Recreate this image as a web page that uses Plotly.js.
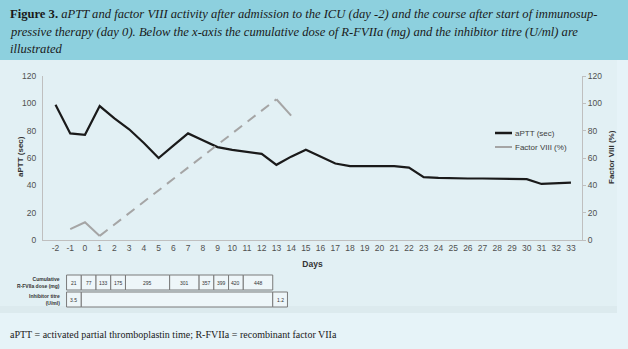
<!DOCTYPE html>
<html>
<head>
<meta charset="utf-8">
<script src="https://cdn.plot.ly/plotly-3.0.1.min.js"></script>
<style>html,body{margin:0;padding:0;background:#e6f3f8;}#chart{width:628px;height:349px;}</style>
</head>
<body>
<div id="chart"></div>
<script>
// ---- data ----
const days = [-2,-1,0,1,2,3,4,5,6,7,8,9,10,11,12,13,14,15,16,17,18,19,20,21,22,23,24,25,26,27,28,29,30,31,32,33];
const aptt = [99,78,77,98,89,81,71,60,69,78,73,68,66,64.5,63,55,61,66,61,56,54,54,53.5,54,53,46,45.5,45,45,45,45,44.5,44.5,41,41.5,42];
const factorDays = [-1,0,1,13,14];
const factorVIII = [8,13,3,103,91];
const doseValues = ['21','77','133','175','295','301','357','399','420','448'];
const doseFromDay = [-1,0,1,2,3,6,8,9,10,11];
const doseToDay   = [0,1,2,3,6,8,9,10,11,13];
const titreValues = ['3.5','','1.2'];
const titreFromDay = [-1,0,13];
const titreToDay   = [0,13,14];
const yTicks = [0,20,40,60,80,100,120];

// ---- layout helpers (pixel -> paper) ----
const L=43, R=582, T=76, B=240;
const px = v => (v-L)/(R-L);
const py = v => (B-v)/(B-T);

// factor VIII: solid where measured on consecutive days, dashed across the gap
const fSolidX=[], fSolidY=[], fDashX=[], fDashY=[];
for (let i=0;i<factorDays.length;i++){
  if (i>0 && factorDays[i]-factorDays[i-1]>1){
    fSolidX.push(null); fSolidY.push(null);
    fDashX.push(factorDays[i-1], factorDays[i]);
    fDashY.push(factorVIII[i-1], factorVIII[i]);
  }
  fSolidX.push(factorDays[i]); fSolidY.push(factorVIII[i]);
}

const grey='#a5a5a5';
const traces = [
  {x: days, y: aptt, type:'scatter', mode:'lines', name:'aPTT (sec)',
   line:{color:'#1a1a1a', width:2.2}, showlegend:false, hoverinfo:'skip'},
  {x: fSolidX, y: fSolidY, type:'scatter', mode:'lines', name:'Factor VIII (%)', yaxis:'y2',
   connectgaps:false, line:{color:grey, width:2}, showlegend:false, hoverinfo:'skip'},
  {x: fDashX, y: fDashY, type:'scatter', mode:'lines', name:'Factor VIII (%) interpolated', yaxis:'y2',
   line:{color:grey, width:2, dash:'10px,7px'}, showlegend:false, hoverinfo:'skip'}
];

const shapes = [
  {type:'rect', xref:'paper', yref:'paper', x0:px(0), x1:px(628), y0:py(0), y1:py(60),
   fillcolor:'#8dd0de', line:{width:0}, layer:'below'},
  {type:'rect', xref:'paper', yref:'paper', x0:px(0), x1:px(617), y0:py(60), y1:py(313),
   fillcolor:'#e2f0f4', line:{width:0}, layer:'below'},
  {type:'rect', xref:'paper', yref:'paper', x0:px(0), x1:px(617), y0:py(306), y1:py(313),
   fillcolor:'#dceaee', line:{width:0}, layer:'below'},
  {type:'line', xref:'paper', yref:'paper', x0:px(495), x1:px(512), y0:py(133), y1:py(133),
   line:{color:'#1a1a1a', width:2.5}},
  {type:'line', xref:'paper', yref:'paper', x0:px(495), x1:px(512), y0:py(147), y1:py(147),
   line:{color:grey, width:2}}
];

const annotations = [];
const serif = 'Liberation Serif, Times New Roman, serif';
const sans = 'Liberation Sans, Arial, sans-serif';
const titleLines = [
  '<b>Figure 3.</b> <i>aPTT and factor VIII activity after admission to the ICU (day -2) and the course after start of immunosup-</i>',
  '<i>pressive therapy (day 0). Below the x-axis the cumulative dose of R-FVIIa (mg) and the inhibitor titre (U/ml) are</i>',
  '<i>illustrated</i>'
];
const titleY = [14, 32, 49];
titleLines.forEach((t,i)=>annotations.push({text:t, xref:'paper', yref:'paper', x:px(8), y:py(titleY[i]),
  xanchor:'left', yanchor:'middle', showarrow:false, font:{family:serif, size:12.6, color:'#1a1a1a'}}));

annotations.push({text:'aPTT = activated partial thromboplastin time; R-FVIIa = recombinant factor VIIa',
  xref:'paper', yref:'paper', x:px(8), y:py(334), xanchor:'left', yanchor:'middle', showarrow:false,
  font:{family:serif, size:10, color:'#1a1a1a'}});

// axis titles
annotations.push({text:'<b>aPTT (sec)</b>', xref:'paper', yref:'paper', x:px(20), y:py(157), textangle:-90,
  xanchor:'center', yanchor:'middle', showarrow:false, font:{family:sans, size:8, color:'#333'}});
annotations.push({text:'<b>Factor VIII (%)</b>', xref:'paper', yref:'paper', x:px(611), y:py(157), textangle:-90,
  xanchor:'center', yanchor:'middle', showarrow:false, font:{family:sans, size:8, color:'#333'}});

// legend texts
annotations.push({text:'aPTT (sec)', xref:'paper', yref:'paper', x:px(513), y:py(133), xanchor:'left', yanchor:'middle',
  showarrow:false, font:{family:sans, size:8, color:'#404040'}});
annotations.push({text:'Factor VIII (%)', xref:'paper', yref:'paper', x:px(513), y:py(147), xanchor:'left', yanchor:'middle',
  showarrow:false, font:{family:sans, size:8, color:'#404040'}});

// table below x axis
const off = 0.25;
function cellRow(vals, from, to, top, bot){
  for (let i=0;i<vals.length;i++){
    shapes.push({type:'rect', xref:'x', yref:'paper', x0:from[i]-off, x1:to[i]-off, y0:py(top), y1:py(bot),
      fillcolor:'#eef6f9', line:{color:'#7a7a7a', width:1}});
    if (vals[i] !== '') annotations.push({text:vals[i], xref:'x', yref:'paper', x:(from[i]+to[i])/2-off,
      y:py((top+bot)/2), xanchor:'center', yanchor:'middle', showarrow:false,
      font:{family:sans, size:5, color:'#333'}});
  }
}
cellRow(doseValues, doseFromDay, doseToDay, 275, 290);
cellRow(titreValues, titreFromDay, titreToDay, 292, 307);
annotations.push({text:'<b>Cumulative<br>R-FVIIa dose (mg)</b>', xref:'paper', yref:'paper', x:px(62), y:py(282.5),
  xanchor:'right', yanchor:'middle', align:'right', showarrow:false, font:{family:sans, size:5, color:'#333'}});
annotations.push({text:'<b>Inhibitor titre<br>(U/ml)</b>', xref:'paper', yref:'paper', x:px(62), y:py(299.5),
  xanchor:'right', yanchor:'middle', align:'right', showarrow:false, font:{family:sans, size:5, color:'#333'}});

const tickFont = {family:sans, size:8.5, color:'#505050'};
const layout = {
  width:628, height:349,
  margin:{l:L, r:628-R, t:T, b:349-B, pad:0},
  paper_bgcolor:'#e6f3f8', plot_bgcolor:'rgba(0,0,0,0)',
  showlegend:false,
  xaxis:{range:[-2.85,33.75], tickvals:days, ticktext:days.map(String), showgrid:false, zeroline:false,
    showline:true, linecolor:'#bfbfbf', linewidth:1, ticks:'', tickfont:tickFont,
    title:{text:'<b>Days</b>', font:{family:sans, size:8.5, color:'#333'}, standoff:8}},
  yaxis:{range:[0,120], tickvals:yTicks, showgrid:false, zeroline:false, showline:true, linecolor:'#bfbfbf',
    ticks:'', tickfont:tickFont, ticklabelstandoff:4},
  yaxis2:{range:[0,120], tickvals:yTicks, overlaying:'y', side:'right', showgrid:false, zeroline:false,
    showline:true, linecolor:'#bfbfbf', ticks:'outside', ticklen:3, tickcolor:'#bfbfbf', tickfont:tickFont},
  shapes: shapes,
  annotations: annotations
};
Plotly.newPlot('chart', traces, layout, {staticPlot:true, displayModeBar:false});
</script>
</body>
</html>
